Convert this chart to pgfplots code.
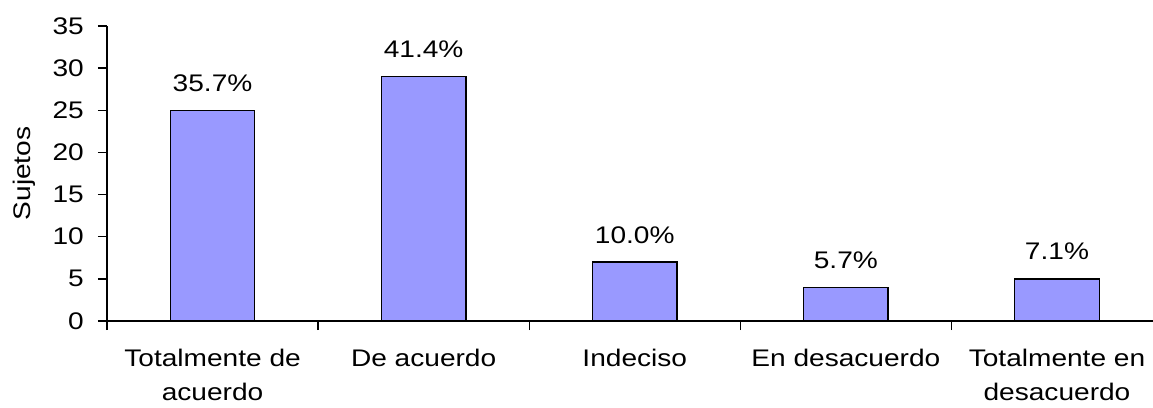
\documentclass[border=0pt]{standalone}
\usepackage{fontspec}
\setmainfont{Liberation Sans}[FakeStretch=1.17]
\usepackage{pgfplots}
\pgfplotsset{compat=1.18}
\definecolor{barblue}{RGB}{153,153,255}

\begin{document}
\begin{tikzpicture}[font=\fontsize{24pt}{34pt}\selectfont]
\begin{axis}[
  scale only axis,
  width=1046pt, height=295pt,
  xmin=-0.5, xmax=4.455,
  ymin=0, ymax=35,
  axis x line*=bottom,
  axis y line*=left,
  axis line style={black, line width=1.4pt},
  tick align=outside,
  major tick length=9pt,
  minor tick length=9pt,
  tick style={black, line width=1.3pt},
  ytick={0,5,...,35},
  xtick={0,1,2,3,4},
  xticklabels={{Totalmente de\\acuerdo},{De acuerdo},{Indeciso},{En desacuerdo},{Totalmente en\\desacuerdo}},
  minor xtick={-0.5,0.5,1.5,2.5,3.5},
  major x tick style={draw=none},
  xticklabel style={align=center, anchor=north, inner sep=0pt, yshift=-19pt},
  yticklabel style={anchor=east, inner sep=0pt, xshift=-14pt},
  /pgf/number format/assume math mode=true,
  ylabel={Sujetos},
  ylabel style={at={(axis description cs:-0.0733,0.5)}, anchor=base, rotate=0},
  ybar,
  bar width=0.4,
  point meta=explicit symbolic,
  nodes near coords,
  every node near coord/.append style={anchor=base, inner sep=0pt, yshift=19pt, black},
  clip=false,
]
\addplot[draw=black, line width=1.4pt, fill=barblue]
  coordinates {(0,25) [35.7\%] (1,29) [41.4\%] (2,7) [10.0\%] (3,4) [5.7\%] (4,5) [7.1\%]};
\coordinate (ll) at (rel axis cs:0,0);
\end{axis}
\pgfresetboundingbox
\path[use as bounding box] ([shift={(-107pt,-86pt)}]ll) rectangle ([shift={(1046pt,321pt)}]ll);
\end{tikzpicture}
\end{document}
